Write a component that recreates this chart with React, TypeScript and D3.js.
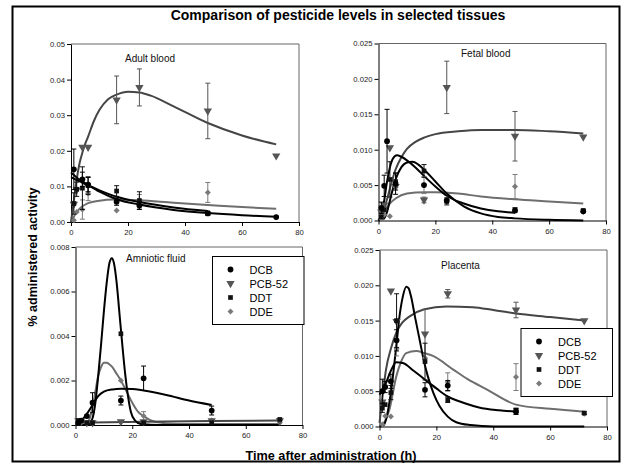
import React, { useEffect, useRef } from 'react';
import * as d3 from 'd3';

// [time (h), value, half error]
type Pt = [number, number, number?];
type CPt = [number, number];

const seriesNames = ['DCB', 'PCB-52', 'DDT', 'DDE'];
const xTicks = [0, 20, 40, 60, 80];

// Adult blood
const adultDCB: Pt[] = [[1, 0.0148, 0.0057], [4, 0.012, 0.002], [6, 0.0105, 0.002], [16, 0.0057, 0.001], [24, 0.0046, 0.001], [48, 0.0024, 0.0004], [72, 0.0014]];
const adultPCB: Pt[] = [[1, 0.005], [2, 0.009], [4, 0.021], [6, 0.021], [16, 0.0343, 0.0067], [24, 0.0378, 0.0052], [48, 0.0312, 0.0078], [72, 0.0186]];
const adultDDT: Pt[] = [[1, 0.0052, 0.003], [2, 0.0092, 0.002], [4, 0.0095, 0.006], [6, 0.0102, 0.0025], [16, 0.0087, 0.0015], [24, 0.006, 0.0025], [48, 0.0025, 0.0005]];
const adultDDE: Pt[] = [[1, 0.0005], [2, 0.0028], [4, 0.0035, 0.0027], [6, 0.008, 0.002], [16, 0.0032], [24, 0.0062, 0.0015], [48, 0.0083, 0.0028], [72, 0.0013]];
const adultFitDCB: CPt[] = [[0, 0.0139], [2, 0.0125], [4, 0.0114], [6, 0.0104], [10, 0.0085], [16, 0.0064], [24, 0.0049], [36, 0.0034], [48, 0.0025], [60, 0.0019], [72, 0.0015]];
const adultFitPCB: CPt[] = [[0, 0], [1, 0.006], [2, 0.012], [3, 0.0165], [4, 0.0195], [5, 0.022], [6, 0.024], [8, 0.0283], [10, 0.0315], [13, 0.0345], [16, 0.0358], [20, 0.0366], [24, 0.0364], [28, 0.0355], [36, 0.0325], [48, 0.0278], [60, 0.0243], [72, 0.0218]];
const adultFitDDT: CPt[] = [[0, 0.0126], [2, 0.0118], [4, 0.011], [6, 0.0103], [10, 0.0089], [16, 0.0071], [24, 0.0056], [36, 0.0041], [48, 0.0031]];
const adultFitDDE: CPt[] = [[0, 0], [1, 0.0015], [2, 0.0028], [4, 0.0044], [6, 0.0053], [10, 0.006], [15, 0.0063], [24, 0.0061], [36, 0.0054], [48, 0.0048], [60, 0.0042], [72, 0.0037]];

// Fetal blood
const fetalDCB: Pt[] = [[1, 0.0018, 0.0008], [2, 0.0049, 0.0015], [3, 0.0112, 0.0045], [6, 0.0052, 0.0015], [16, 0.005], [24, 0.0028], [48, 0.0014], [72, 0.0013]];
const fetalPCB: Pt[] = [[1, 0.0012], [2, 0.0022], [4, 0.0103], [6, 0.0048], [16, 0.0029, 0.0004], [24, 0.0188, 0.0037], [48, 0.0119, 0.0035], [72, 0.0118]];
const fetalDDT: Pt[] = [[1, 0.0005], [2, 0.0015], [4, 0.0058, 0.0025], [6, 0.0055, 0.0012], [16, 0.007, 0.0009], [24, 0.0027, 0.0005], [48, 0.0015, 0.0003], [72, 0.0014, 0.0002]];
const fetalDDE: Pt[] = [[1, 0.0002], [2, 0.0008], [4, 0.0006], [6, 0.0047], [16, 0.005, 0.0012], [24, 0.003], [48, 0.0048, 0.0017], [72, 0.0012]];
const fetalFitDCB: CPt[] = [[0, 0], [1, 0.0008], [2, 0.0028], [3, 0.0055], [4, 0.0075], [5, 0.0087], [6.5, 0.0092], [8, 0.009], [10, 0.0085], [13, 0.0075], [16, 0.0063], [20, 0.0048], [24, 0.0035], [30, 0.0024], [36, 0.0017], [42, 0.0013], [48, 0.0011]];
const fetalFitPCB: CPt[] = [[0, 0], [1, 0.0005], [2, 0.0017], [3, 0.003], [4, 0.0045], [6, 0.0072], [8, 0.0089], [10, 0.0101], [13, 0.0111], [16, 0.0117], [20, 0.0122], [28, 0.0126], [36, 0.0128], [48, 0.0128], [60, 0.0126], [72, 0.0123]];
const fetalFitDDT: CPt[] = [[0, 0], [2, 0.0003], [3, 0.0012], [4, 0.0028], [6, 0.0058], [8, 0.0075], [10, 0.0082], [12, 0.0083], [14, 0.0079], [16, 0.0072], [20, 0.0055], [24, 0.0038], [30, 0.002], [36, 0.001], [42, 0.0005], [48, 0.0003], [60, 0.0001], [72, 0]];
const fetalFitDDE: CPt[] = [[0, 0], [2, 0.0013], [4, 0.0024], [6, 0.0031], [10, 0.0038], [16, 0.004], [20, 0.004], [28, 0.0038], [36, 0.0034], [48, 0.003], [60, 0.0027], [72, 0.0024]];

// Amniotic fluid
const amnDCB: Pt[] = [[1, 0.0001], [2, 0.0002], [4, 0.0004], [6, 0.001, 0.00045], [16, 0.0011, 0.0002], [24, 0.0021, 0.00055], [48, 0.00065, 0.0002]];
const amnPCB: Pt[] = [[1, 0.0002], [2, 0.0002], [4, 0.0001], [6, 0.0001], [16, 0.00015], [24, 0.00015], [48, 0.0002], [72, 0.0002]];
const amnDDT: Pt[] = [[1, 0.0002], [2, 0.0002], [4, 0.0001], [6, 0.0001], [16, 0.0041], [24, 0.0001], [48, 0.0001], [72, 0.00025]];
const amnDDE: Pt[] = [[1, 0.0001], [2, 0.0001], [4, 0.0001], [6, 0.0001], [16, 0.002], [24, 0.0004, 0.0002], [48, 0.0002], [72, 0.0001]];
const amnFitDCB: CPt[] = [[0, 0.0001], [2, 0.0002], [4, 0.0005], [6, 0.0009], [8, 0.0013], [10, 0.0015], [13, 0.0016], [16, 0.00163], [20, 0.00162], [24, 0.00155], [32, 0.00135], [40, 0.0011], [48, 0.0009]];
const amnFitPCB: CPt[] = [[0, 0.0001], [24, 0.00015], [48, 0.00018], [72, 0.0002]];
const amnFitDDT: CPt[] = [[0, 0], [4, 0], [5, 0.00005], [6, 0.0003], [7, 0.001], [8, 0.0022], [9, 0.0036], [10, 0.0051], [11, 0.0064], [12, 0.0073], [12.8, 0.0075], [13.5, 0.0073], [14.5, 0.0064], [15.5, 0.005], [16.5, 0.0036], [17.5, 0.0023], [18.5, 0.0013], [19.5, 0.0006], [21, 0.0002], [23, 0.00005], [30, 0], [72, 0]];
const amnFitDDE: CPt[] = [[0, 0], [4, 0.00005], [5, 0.0003], [6, 0.0008], [7, 0.0015], [8, 0.0022], [9, 0.0026], [10, 0.0028], [11, 0.0028], [12, 0.00272], [13, 0.0026], [14, 0.0024], [16, 0.002], [18, 0.0015], [20, 0.001], [22, 0.0006], [24, 0.0004], [28, 0.00015], [36, 0.00005], [72, 0.00005]];

// Placenta
const placDCB: Pt[] = [[1, 0.005, 0.0017], [2, 0.0056, 0.0008], [4, 0.0064, 0.001], [6, 0.0122, 0.0015], [16, 0.0052, 0.001], [24, 0.0058, 0.0007], [48, 0.0021, 0.0004]];
const placPCB: Pt[] = [[1, 0.0035], [4, 0.0192], [6, 0.0149], [16, 0.0131, 0.0035], [24, 0.0188, 0.0006], [48, 0.0165, 0.0011], [72, 0.015]];
const placDDT: Pt[] = [[1, 0.0026, 0.0006], [2, 0.0031], [4, 0.0048, 0.001], [6, 0.015, 0.0038], [16, 0.0092, 0.0026], [24, 0.0038, 0.0004], [48, 0.0023, 0.0003], [72, 0.0019, 0.0002]];
const placDDE: Pt[] = [[1, 0.0003], [2, 0.0015], [4, 0.0014], [6, 0.011, 0.001], [16, 0.0097], [24, 0.0063, 0.0013], [48, 0.007, 0.0019], [72, 0.0018]];
const placFitDCB: CPt[] = [[0, 0.0045], [2.3, 0.0062], [4, 0.0079], [5.9, 0.0091], [8.2, 0.009], [12, 0.0079], [15.8, 0.0067], [20, 0.0054], [23.8, 0.0043], [30, 0.0033], [35, 0.0027], [42, 0.0023], [48, 0.0021]];
const placFitPCB: CPt[] = [[0, 0.0005], [1, 0.004], [2.3, 0.0081], [4, 0.011], [5.9, 0.0133], [8, 0.0147], [10.6, 0.0156], [15.8, 0.0166], [23.5, 0.017], [32.8, 0.0169], [40, 0.0165], [48, 0.016], [60, 0.0155], [72, 0.015]];
const placFitDDT: CPt[] = [[0, 0], [1.5, 0.0002], [2.3, 0.001], [4, 0.0048], [5.9, 0.0114], [7, 0.0155], [8.2, 0.0184], [9.4, 0.0198], [10.2, 0.0196], [11.1, 0.0184], [12.5, 0.0155], [14.1, 0.0123], [15.5, 0.0095], [17, 0.0071], [19, 0.0047], [21.1, 0.0029], [24, 0.0014], [27, 0.0006], [32, 0.0002], [40, 0], [72, 0]];
const placFitDDE: CPt[] = [[0, 0], [2, 0.0008], [3.5, 0.0024], [5.9, 0.0071], [7.5, 0.0091], [9.4, 0.0104], [12.9, 0.0107], [15.8, 0.0104], [18.8, 0.01], [25.8, 0.0081], [31, 0.0067], [37.5, 0.0053], [48, 0.0031], [60, 0.0025], [72, 0.0021]];

const adultTicks = [0, 0.01, 0.02, 0.03, 0.04, 0.05];
const fetalTicks = [0, 0.005, 0.01, 0.015, 0.02, 0.025];
const amnTicks = [0, 0.002, 0.004, 0.006, 0.008];
const placTicks = [0, 0.005, 0.01, 0.015, 0.02, 0.025];

const FONT = 'Arial, "Liberation Sans", sans-serif';
const markColor = ['#000', '#555', '#111', '#7a7a7a'];
const lineColor = ['#000', '#454545', '#000', '#6e6e6e'];
// DDE diamond = square turned 45 degrees
const symbols = [d3.symbolCircle, d3.symbolTriangle, d3.symbolSquare, d3.symbolSquare];
const symSize = [26, 30, 22, 18];
const symRotate = [0, 180, 0, 45];

const panels = [
  { title: 'Adult blood', tx: 125, ty: 62, x0: 71, x1: 299, y0: 222, y1: 44, ticks: adultTicks, fmt: '.2f',
    pts: [adultDCB, adultPCB, adultDDT, adultDDE], fits: [adultFitDCB, adultFitPCB, adultFitDDT, adultFitDDE], legend: null },
  { title: 'Fetal blood', tx: 461, ty: 57, x0: 378.5, x1: 606, y0: 220.5, y1: 43.5, ticks: fetalTicks, fmt: '.3f',
    pts: [fetalDCB, fetalPCB, fetalDDT, fetalDDE], fits: [fetalFitDCB, fetalFitPCB, fetalFitDDT, fetalFitDDE], legend: null },
  { title: 'Amniotic fluid', tx: 126, ty: 262, x0: 75.5, x1: 302.5, y0: 425, y1: 247, ticks: amnTicks, fmt: '.3f',
    pts: [amnDCB, amnPCB, amnDDT, amnDDE], fits: [amnFitDCB, amnFitPCB, amnFitDDT, amnFitDDE], legend: { x: 212.5, y: 256.5, w: 91.5, h: 68 } },
  { title: 'Placenta', tx: 441, ty: 269, x0: 379.5, x1: 607, y0: 426.5, y1: 250, ticks: placTicks, fmt: '.3f',
    pts: [placDCB, placPCB, placDDT, placDDE], fits: [placFitDCB, placFitPCB, placFitDDT, placFitDDE], legend: { x: 521, y: 328.5, w: 91.5, h: 68 } },
];

function App() {
  const ref = useRef<SVGSVGElement>(null);

  useEffect(() => {
    const svg = d3.select(ref.current);
    svg.selectAll('*').remove();

    svg.append('rect').attr('x', 0).attr('y', 0).attr('width', 621).attr('height', 463).attr('fill', '#fff');
    svg.append('rect').attr('x', 12.5).attr('y', 6.5).attr('width', 607).attr('height', 455)
      .attr('fill', 'none').attr('stroke', '#000').attr('stroke-width', 2);

    svg.append('text').attr('x', 338).attr('y', 20).attr('text-anchor', 'middle')
      .attr('font-family', FONT).attr('font-size', 14).attr('font-weight', 'bold')
      .text('Comparison of pesticide levels in selected tissues');

    svg.append('text').attr('x', 331).attr('y', 460).attr('text-anchor', 'middle')
      .attr('font-family', FONT).attr('font-size', 12.7).attr('font-weight', 'bold')
      .text('Time after administration (h)');

    svg.append('text').attr('transform', 'translate(37,257) rotate(-90)').attr('text-anchor', 'middle')
      .attr('font-family', FONT).attr('font-size', 12.5).attr('font-weight', 'bold')
      .text('% administered activity');

    panels.forEach(p => {
      const x = d3.scaleLinear().domain([0, 80]).range([p.x0, p.x1]);
      const y = d3.scaleLinear().domain([0, p.ticks[p.ticks.length - 1]]).range([p.y0, p.y1]);
      const g = svg.append('g');

      // frame top / right
      g.append('path')
        .attr('d', `M${p.x0},${p.y1}H${p.x1}V${p.y0}`)
        .attr('fill', 'none').attr('stroke', '#666').attr('stroke-width', 1);

      const yAxis = g.append('g').attr('transform', `translate(${p.x0},0)`)
        .call(d3.axisLeft(y).tickValues(p.ticks).tickSize(4).tickSizeOuter(0).tickPadding(2).tickFormat(d3.format(p.fmt)));
      const xAxis = g.append('g').attr('transform', `translate(0,${p.y0})`)
        .call(d3.axisBottom(x).tickValues(xTicks).tickSize(4).tickSizeOuter(0).tickPadding(4));
      [yAxis, xAxis].forEach(a => {
        a.selectAll('text').attr('font-family', FONT).attr('font-size', 7.7).attr('fill', '#222');
        a.select('.domain').attr('stroke', '#000');
      });

      g.append('text').attr('x', p.tx).attr('y', p.ty)
        .attr('font-family', FONT).attr('font-size', 10).attr('fill', '#111').text(p.title);

      const line = d3.line<CPt>().x(d => x(d[0])).y(d => y(d[1])).curve(d3.curveMonotoneX);
      // fitted curves: grey ones behind black ones
      [3, 1, 2, 0].forEach(i => {
        g.append('path').attr('d', line(p.fits[i]))
          .attr('fill', 'none').attr('stroke', lineColor[i]).attr('stroke-width', 2);
      });

      [3, 1, 2, 0].forEach(i => {
        const col = markColor[i];
        p.pts[i].filter(d => d[2]).forEach(d => {
          const cx = x(d[0]);
          const e = d[2] as number;
          g.append('path')
            .attr('d', `M${cx},${y(d[1] - e)}V${y(d[1] + e)}M${cx - 2.5},${y(d[1] + e)}H${cx + 2.5}M${cx - 2.5},${y(d[1] - e)}H${cx + 2.5}`)
            .attr('stroke', col).attr('stroke-width', 1).attr('fill', 'none');
        });
        g.selectAll(null).data(p.pts[i]).join('path')
          .attr('d', d3.symbol().type(symbols[i]).size(symSize[i])())
          .attr('transform', d => `translate(${x(d[0])},${y(d[1])}) rotate(${symRotate[i]})`)
          .attr('fill', col);
      });

      if (p.legend) {
        const L = p.legend;
        const lg = g.append('g');
        lg.append('rect').attr('x', L.x).attr('y', L.y).attr('width', L.w).attr('height', L.h)
          .attr('fill', '#fff').attr('stroke', '#000').attr('stroke-width', 1);
        seriesNames.forEach((name, i) => {
          const ry = L.y + 13 + i * 14;
          lg.append('path')
            .attr('d', d3.symbol().type(symbols[i]).size(symSize[i])())
            .attr('transform', `translate(${L.x + 18},${ry}) rotate(${symRotate[i]})`)
            .attr('fill', markColor[i]);
          lg.append('text').attr('x', L.x + 37).attr('y', ry + 4)
            .attr('font-family', FONT).attr('font-size', 11).attr('fill', '#000').text(name);
        });
      }
    });
  }, []);

  return (
    <svg ref={ref} width={621} height={463} style={{ position: 'absolute', left: 0, top: 0 }} />
  );
}

export default App;
